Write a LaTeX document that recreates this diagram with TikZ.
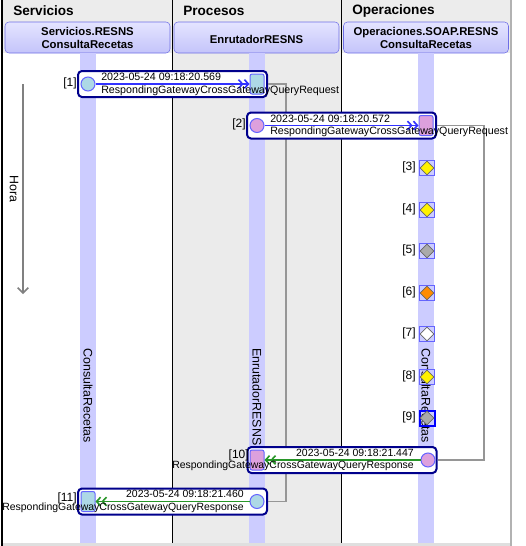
\documentclass[tikz,border=0pt]{standalone}
\usepackage{fontspec}
\setmainfont{Liberation Sans}
\usetikzlibrary{arrows.meta,shapes.geometric}

\definecolor{hdrgray}{RGB}{236,236,236}
\definecolor{procgray}{RGB}{235,235,235}
\definecolor{bandlav}{RGB}{204,204,255}
\definecolor{hdrtop}{RGB}{228,228,255}
\definecolor{hdrbot}{RGB}{196,196,250}
\definecolor{hdrline}{RGB}{110,110,230}
\definecolor{frame}{RGB}{0,0,140}
\definecolor{ptline}{RGB}{100,100,255}
\definecolor{ltblue}{RGB}{173,216,230}
\definecolor{plum}{RGB}{221,160,221}
\definecolor{reqblue}{RGB}{50,50,255}
\definecolor{respgreen}{RGB}{40,150,40}
\definecolor{linkgray}{RGB}{150,150,150}
\definecolor{dgray}{RGB}{170,170,170}
\definecolor{dorange}{RGB}{255,140,0}

\begin{document}
\begin{tikzpicture}[x=0.75pt,y=-0.75pt,
  title/.style={anchor=west,inner sep=0pt,font=\fontsize{10.2}{12}\selectfont\bfseries},
  hdrbox/.style={draw=hdrline,rounded corners=3pt,top color=hdrtop,bottom color=hdrbot,minimum width=123.75pt,minimum height=23.25pt,inner sep=0pt,align=center,font=\fontsize{8.5}{9.75}\selectfont\bfseries},
  lane/.style={rotate=-90,inner sep=0pt,font=\fontsize{9.3}{11}\selectfont},
  msgbox/.style={draw=frame,line width=1.5pt,rounded corners=3pt,fill=white,minimum width=141.75pt,minimum height=19.5pt,inner sep=0pt},
  endpt/.style={circle,draw=ptline,line width=0.75pt,minimum size=10.5pt,inner sep=0pt},
  endsq/.style={rectangle,draw=ptline,line width=0.75pt,rounded corners=1.5pt,minimum width=10.5pt,minimum height=15pt,inner sep=0pt},
  msgtxt/.style={inner sep=0pt,font=\fontsize{8}{9.5}\selectfont},
  resptxt/.style={inner sep=0pt,font=\fontsize{7.85}{9.5}\selectfont},
  idx/.style={anchor=east,inner sep=0pt,font=\fontsize{9}{10}\selectfont},
  req/.style={draw=reqblue,line width=1.2pt,-{Straight Barb[length=3pt,width=6.5pt]Straight Barb[length=3pt,width=6.5pt]}},
  resp/.style={draw=respgreen,line width=1.2pt,-{Straight Barb[length=3pt,width=6.5pt]Straight Barb[length=3pt,width=6.5pt]}},
  link/.style={draw=linkgray,line width=1.1pt},
  dbox/.style={draw=ptline,line width=0.75pt,minimum size=11.25pt,inner sep=0pt},
  dmd/.style={diamond,draw=black!60,line width=0.5pt,minimum width=10.5pt,minimum height=10.5pt,inner sep=0pt}]
\useasboundingbox (0,0) rectangle (525,546);

\fill[white] (0,0) rectangle (525,546);
\fill[hdrgray] (2,0) rectangle (511,53);
\fill[procgray] (172,53) rectangle (341,543);
\fill[gray!25] (2,543) rectangle (511,546);
\draw[black,line width=1.1pt] (2,0) -- (2,546);
\draw[black,line width=0.75pt] (172,0) -- (172,543);
\draw[black,line width=0.75pt] (341,0) -- (341,543);
\draw[gray!60,line width=1pt] (511,0) -- (511,546);

\node[title] (tserv) at (13,11) {Servicios};
\node[title] (tproc) at (183,11) {Procesos};
\node[title] (toper) at (352,11) {Operaciones};

\node[hdrbox] (hserv) at (87.5,37.5) {Servicios.RESNS\\ConsultaRecetas};
\node[hdrbox] (hproc) at (256.5,37.5) {\mbox{}\\EnrutadorRESNS};
\node[hdrbox] (hoper) at (426,37.5) {Operaciones.SOAP.RESNS\\ConsultaRecetas};

\fill[bandlav] (80,53) rectangle (96,543);
\fill[bandlav] (249,53) rectangle (265,543);
\fill[bandlav] (418,53) rectangle (434,543);

\node[lane,anchor=west] (vserv) at (88,348) {ConsultaRecetas};
\node[lane,anchor=west] (vproc) at (257,348) {EnrutadorRESNS};
\node[lane,anchor=west] (voper) at (426,348) {ConsultaRecetas};

\coordinate (hs) at (23,84);
\coordinate (he) at (23,294);
\draw[linkgray!85!black,line width=1.1pt,-{Straight Barb[length=4pt,width=8pt]}] (hs) -- (he);
\node[lane] (hora) at (14,189) {Hora};

\node[msgbox] (b1) at (172.5,84) {};
\node[msgbox] (b11) at (172.5,501.5) {};
\draw[link] (b1.east) -- ++(18,0) |- (b11.east);
\node[msgbox] (b2) at (341.5,125.5) {};
\node[msgbox] (b10) at (342,460) {};
\draw[link] (b2.east) -- ++(47,0) |- (b10.east);

\node[endpt,fill=ltblue] (c1) at (88,84) {};
\node[endsq,fill=ltblue] (q1) at (257,84) {};
\draw[req] (c1) -- (q1);
\node[endpt,fill=plum] (c2) at (257,125.5) {};
\node[endsq,fill=plum] (q2) at (426,125.5) {};
\draw[req] (c2) -- (q2);
\node[endpt,fill=plum] (c10) at (428,460) {};
\node[endsq,fill=plum] (q10) at (257,460) {};
\draw[resp] (c10) -- (q10);
\node[endpt,fill=ltblue] (c11) at (257,501.5) {};
\node[endsq,fill=ltblue] (q11) at (88,501.5) {};
\draw[resp] (c11) -- (q11);

\node[msgtxt,anchor=west,align=left] (t1) at (101,84.5) {2023-05-24 09:18:20.569\\RespondingGatewayCrossGatewayQueryRequest};
\node[msgtxt,anchor=west,align=left] (t2) at (270,126) {2023-05-24 09:18:20.572\\RespondingGatewayCrossGatewayQueryRequest};
\node[resptxt,anchor=east,align=right] (t10) at (414,460) {2023-05-24 09:18:21.447\\RespondingGatewayCrossGatewayQueryResponse};
\node[resptxt,anchor=east,align=right] (t11) at (244,501.5) {2023-05-24 09:18:21.460\\RespondingGatewayCrossGatewayQueryResponse};

\node[idx] (l1) at (77,83) {[1]};
\node[idx] (l2) at (246,124) {[2]};
\node[idx] (l10) at (249,455) {[10]};
\node[idx] (l11) at (77,498) {[11]};

\node[dbox] (k3) at (427,168) {};
\node[dmd,fill=yellow] (d3) at (k3) {};
\node[idx] (l3) at (416,167) {[3]};
\node[dbox] (k4) at (427,210) {};
\node[dmd,fill=yellow] (d4) at (k4) {};
\node[idx] (l4) at (416,209) {[4]};
\node[dbox] (k5) at (427,251) {};
\node[dmd,fill=dgray] (d5) at (k5) {};
\node[idx] (l5) at (416,250) {[5]};
\node[dbox] (k6) at (427,293) {};
\node[dmd,fill=dorange] (d6) at (k6) {};
\node[idx] (l6) at (416,292) {[6]};
\node[dbox] (k7) at (427,334) {};
\node[dmd,fill=white] (d7) at (k7) {};
\node[idx] (l7) at (416,333) {[7]};
\node[dbox] (k8) at (427,377) {};
\node[dmd,fill=yellow] (d8) at (k8) {};
\node[idx] (l8) at (416,376) {[8]};
\node[dbox,draw=blue,line width=1.5pt] (k9) at (427,418) {};
\node[dmd,fill=dgray] (d9) at (k9) {};
\node[idx] (l9) at (416,417) {[9]};
\end{tikzpicture}
\end{document}
